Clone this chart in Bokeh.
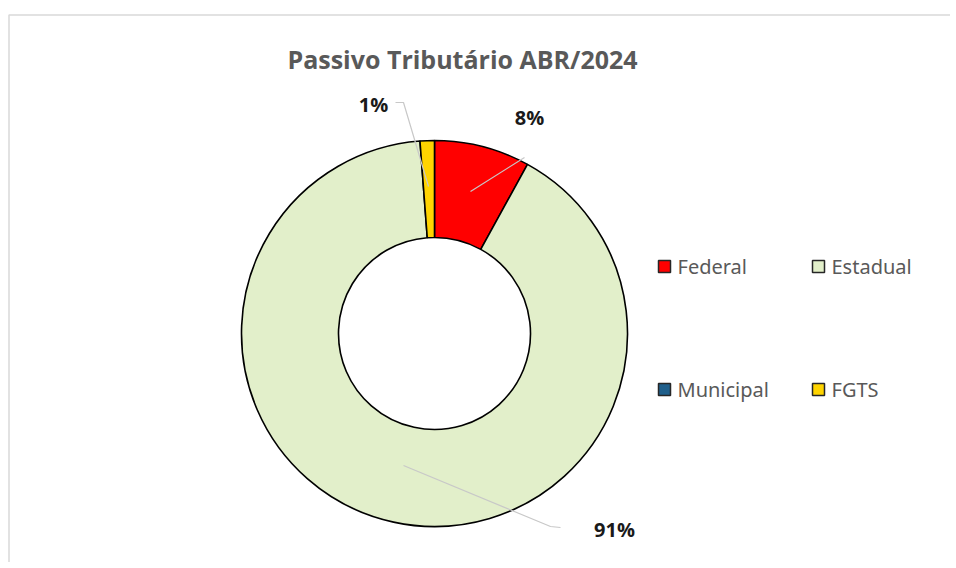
import math
from bokeh.plotting import figure
from bokeh.models import ColumnDataSource, Range1d
from bokeh.core.properties import value
from bokeh.embed import file_html
from bokeh.resources import INLINE

# ---- data ----
categories = ["Federal", "Estadual", "Municipal", "FGTS"]
values = [8.0, 90.8, 0.0, 1.2]
pct_labels = ["8%", "91%", "", "1%"]
colors = ["#ff0000", "#e2efca", "#1f5f8b", "#ffd400"]
title_text = "Passivo Tributário ABR/2024"

W, H = 950, 562
def py(page_y):  # page y -> data y
    return H - page_y
def px(page_x):
    return page_x

p = figure(width=W, height=H, output_backend="svg", toolbar_location=None,
           x_range=Range1d(0, W), y_range=Range1d(0, H), min_border=0)
p.axis.visible = False
p.grid.visible = False
p.outline_line_color = None
p.background_fill_color = "white"

# chart area border
p.line(x=[px(8.5), px(8.5), W + 5], y=[-5, py(14.5), py(14.5)], line_color="#d9d9d9", line_width=1.5)

# donut (zero-size slices are not drawn)
cx, cy = px(434), py(333)
total = sum(values)
starts, ends, cols, cats = [], [], [], []
cum = 0.0
for v, c, cat in zip(values, colors, categories):
    s = math.pi / 2 - cum / total * 2 * math.pi
    cum += v
    e = math.pi / 2 - cum / total * 2 * math.pi
    if v > 0:
        starts.append(s); ends.append(e); cols.append(c); cats.append(cat)
src = ColumnDataSource(dict(start=starts, end=ends, color=cols, cat=cats))
p.annular_wedge(x=cx, y=cy, inner_radius=96, outer_radius=193, start_angle="start", end_angle="end",
                direction="clock", fill_color="color", line_color="black", line_width=1.6, source=src)

# leader lines
gray = "#c8c8c8"
p.line(x=[px(524), px(470)], y=[py(157), py(191)], line_color=gray, line_width=1.2)
p.line(x=[px(395), px(403), px(428)], y=[py(102), py(102), py(186)], line_color=gray, line_width=1.2)
p.line(x=[px(560), px(550), px(403)], y=[py(527), py(526), py(465)], line_color=gray, line_width=1.2)

# percentage labels
lab_pos = {0: (529, 117), 1: (614, 529), 3: (373, 104)}
for i, (lx, ly) in lab_pos.items():
    p.text(x=[px(lx)], y=[py(ly)], text=[pct_labels[i]], text_font=value("Open Sans"), text_font_style="bold",
           text_font_size="20px", text_color="#1a1a1a", text_align="center", text_baseline="middle")

# title
p.text(x=[px(462)], y=[py(58)], text=[title_text], text_font=value("Open Sans"), text_font_style="bold",
       text_font_size="25px", text_color="#595959", text_align="center", text_baseline="middle")

# legend
leg_pos = [(664, 266), (818, 266), (664, 389), (818, 389)]
for (lx, ly), cat, col in zip(leg_pos, categories, colors):
    p.scatter(x=[px(lx)], y=[py(ly)], marker="square", size=12, fill_color=col, line_color="#262626", line_width=1.5)
    p.text(x=[px(lx + 13)], y=[py(ly)], text=[cat], text_font=value("Noto Sans"),
           text_font_size="20px", text_color="#595959", text_align="left", text_baseline="middle")

open("out.html", "w").write(file_html(p, INLINE))
